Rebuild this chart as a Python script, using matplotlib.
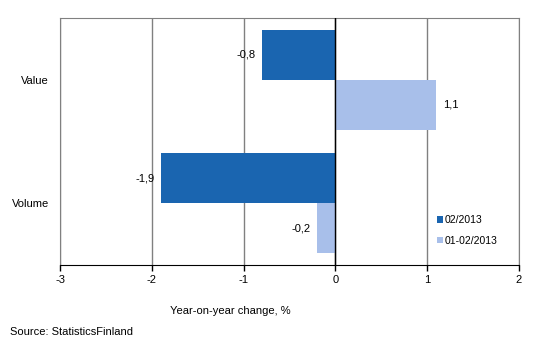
import matplotlib
matplotlib.use("Agg")
import matplotlib.pyplot as plt
import numpy as np

plt.rcParams['font.family'] = ['Liberation Sans', 'DejaVu Sans']

categories = ["Value", "Volume"]
series_names = ["02/2013", "01-02/2013"]
month_vals = [-0.8, -1.9]
period_vals = [1.1, -0.2]
colors = ["#1a65b0", "#a8bfea"]

fig = plt.figure(figsize=(5.33, 3.6), dpi=100)
ax = fig.add_axes([60 / 533, 1 - 265 / 360, 459 / 533, 247 / 360])

y = np.arange(len(categories))
h = 0.405
for vals, off, col, name in [(month_vals, -h / 2, colors[0], series_names[0]),
                             (period_vals, h / 2, colors[1], series_names[1])]:
    ax.barh(y + off, vals, height=h, color=col, label=name, zorder=3)
    for yi, v in zip(y, vals):
        txt = f"{v:.1f}".replace(".", ",")
        if v < 0:
            ax.text(v - 0.07, yi + off, txt, ha="right", va="center", fontsize=8)
        else:
            ax.text(v + 0.07, yi + off, txt, ha="left", va="center", fontsize=8)

ax.set_xlim(-3, 2)
ax.set_ylim(1.5, -0.5)
ax.set_xticks(range(-3, 3))
ax.set_xticklabels([str(t) for t in range(-3, 3)], fontsize=8)
ax.set_yticks(y)
ax.set_yticklabels(categories, fontsize=8)
ax.tick_params(axis="y", length=0, pad=8)
ax.tick_params(axis="x", length=4, direction="out", width=1, pad=3)
ax.grid(axis="x", color="#808080", linewidth=1, zorder=0)
ax.axvline(0, color="black", linewidth=1, zorder=4)
for s in ["top", "right", "left"]:
    ax.spines[s].set_color("#808080")
ax.spines["bottom"].set_color("black")

ax.legend(loc="upper left", bbox_to_anchor=(0.8, 0.24), frameon=False, fontsize=7.5,
          handlelength=0.6, handleheight=0.6, handletextpad=0.2, labelspacing=1.0)

fig.text(230 / 533, 1 - 311 / 360, "Year-on-year change, %", ha="center", va="center", fontsize=8)
fig.text(10 / 533, 1 - 332 / 360, "Source: StatisticsFinland", ha="left", va="center", fontsize=8)

fig.savefig("out.png", dpi=100)
